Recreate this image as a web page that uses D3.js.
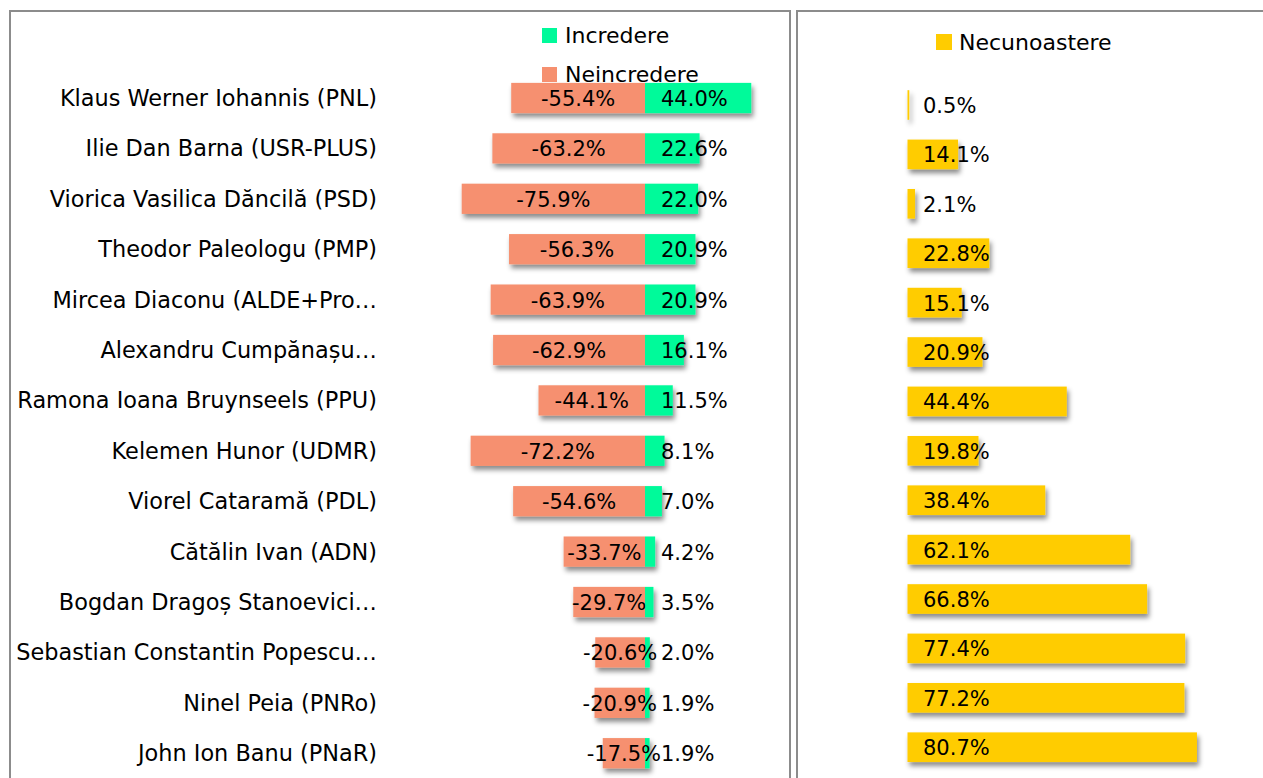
<!DOCTYPE html>
<html>
<head>
<meta charset="utf-8">
<style>
	body {margin: 0; background: #fff;}
	svg {display: block; font-family: "DejaVu Sans", sans-serif;}
</style>
<script src="https://d3js.org/d3.v7.min.js"></script>
</head>
<body>
<svg id="chart" width="1263" height="778"></svg>

<script id="data">
	// candidates, top to bottom
	var candidates = [
		"Klaus Werner Iohannis (PNL)",
		"Ilie Dan Barna (USR-PLUS)",
		"Viorica Vasilica Dăncilă (PSD)",
		"Theodor Paleologu (PMP)",
		"Mircea Diaconu (ALDE+Pro…",
		"Alexandru Cumpănașu…",
		"Ramona Ioana Bruynseels (PPU)",
		"Kelemen Hunor (UDMR)",
		"Viorel Cataramă (PDL)",
		"Cătălin Ivan (ADN)",
		"Bogdan Dragoș Stanoevici…",
		"Sebastian Constantin Popescu…",
		"Ninel Peia (PNRo)",
		"John Ion Banu (PNaR)"
	];
	var incredere   = [44.0, 22.6, 22.0, 20.9, 20.9, 16.1, 11.5, 8.1, 7.0, 4.2, 3.5, 2.0, 1.9, 1.9];
	var neincredere = [-55.4, -63.2, -75.9, -56.3, -63.9, -62.9, -44.1, -72.2, -54.6, -33.7, -29.7, -20.6, -20.9, -17.5];
	var necunoastere = [0.5, 14.1, 2.1, 22.8, 15.1, 20.9, 44.4, 19.8, 38.4, 62.1, 66.8, 77.4, 77.2, 80.7];

	var legendLeft = ["Incredere", "Neincredere"];
	var legendRight = ["Necunoastere"];
</script>

<script id="chart-building">
	var GREEN = "#00fa9a", SALMON = "#f6906f", YELLOW = "#ffcc00";
	var svg = d3.select("#chart");
	var fmt = function (v) { return v.toFixed(1) + "%"; };

	// drop shadow like the office chart
	var filt = svg.append("defs").append("filter")
		.attr("id", "shadow")
		.attr("x", "-10%").attr("y", "-30%")
		.attr("width", "130%").attr("height", "180%");
	filt.append("feDropShadow")
		.attr("dx", 2).attr("dy", 4)
		.attr("stdDeviation", 2.5)
		.attr("flood-color", "#000")
		.attr("flood-opacity", 0.45);

	// panel borders
	svg.append("rect")
		.attr("x", 10).attr("y", 11)
		.attr("width", 780).attr("height", 820)
		.style("fill", "none").style("stroke", "#8c8c8c").style("stroke-width", 2);
	svg.append("rect")
		.attr("x", 797).attr("y", 11)
		.attr("width", 520).attr("height", 820)
		.style("fill", "none").style("stroke", "#8c8c8c").style("stroke-width", 2);

	// ---------- left panel ----------
	var yLeft = d3.scaleBand()
		.domain(candidates)
		.range([72.8, 778.4])
		.paddingInner(0.4)
		.paddingOuter(0.2);
	var xLeft = d3.scaleLinear()
		.domain([-80, 50])
		.range([451.8, 765.75]);

	// legend (drawn first, the top bar sits over it)
	var legL = svg.append("g");
	legendLeft.forEach(function (name, i) {
		legL.append("rect")
			.attr("x", 542).attr("y", 28 + i * 39)
			.attr("width", 15).attr("height", 15)
			.style("fill", i == 0 ? GREEN : SALMON);
		legL.append("text")
			.attr("x", 565).attr("y", 35.5 + i * 39)
			.attr("dy", "0.36em")
			.style("font-size", "22px")
			.text(name);
	});

	// category labels
	svg.append("g").selectAll("text")
		.data(candidates)
		.enter().append("text")
		.attr("x", 377)
		.attr("y", function (d) { return yLeft(d) + yLeft.bandwidth() / 2; })
		.attr("dy", "0.36em")
		.attr("text-anchor", "end")
		.style("font-size", "22.4px")
		.text(function (d) { return d; });

	// bars
	var barsL = svg.append("g").attr("filter", "url(#shadow)");
	barsL.selectAll(".neg")
		.data(neincredere)
		.enter().append("rect")
		.attr("class", "neg")
		.attr("x", function (d) { return xLeft(d); })
		.attr("y", function (d, i) { return yLeft(candidates[i]); })
		.attr("width", function (d) { return xLeft(0) - xLeft(d); })
		.attr("height", yLeft.bandwidth())
		.style("fill", SALMON);
	barsL.selectAll(".pos")
		.data(incredere)
		.enter().append("rect")
		.attr("class", "pos")
		.attr("x", xLeft(0))
		.attr("y", function (d, i) { return yLeft(candidates[i]); })
		.attr("width", function (d) { return xLeft(d) - xLeft(0); })
		.attr("height", yLeft.bandwidth())
		.style("fill", GREEN);

	// value labels
	var labL = svg.append("g").style("font-size", "21px");
	labL.selectAll(".negl")
		.data(neincredere)
		.enter().append("text")
		.attr("x", function (d) { return (xLeft(d) + xLeft(0)) / 2; })
		.attr("y", function (d, i) { return yLeft(candidates[i]) + yLeft.bandwidth() / 2; })
		.attr("dy", "0.38em")
		.attr("text-anchor", "middle")
		.text(fmt);
	labL.selectAll(".posl")
		.data(incredere)
		.enter().append("text")
		.attr("x", xLeft(0) + 16)
		.attr("y", function (d, i) { return yLeft(candidates[i]) + yLeft.bandwidth() / 2; })
		.attr("dy", "0.38em")
		.text(fmt);

	// ---------- right panel ----------
	var yRight = d3.scaleBand()
		.domain(candidates)
		.range([80.3, 771.9])
		.paddingInner(0.4)
		.paddingOuter(0.2);
	var xRight = d3.scaleLinear()
		.domain([0, 90])
		.range([907.5, 1230.3]);

	legendRight.forEach(function (name) {
		svg.append("rect")
			.attr("x", 936).attr("y", 34)
			.attr("width", 16).attr("height", 16)
			.style("fill", YELLOW);
		svg.append("text")
			.attr("x", 959).attr("y", 42)
			.attr("dy", "0.36em")
			.style("font-size", "22px")
			.text(name);
	});

	svg.append("g").attr("filter", "url(#shadow)")
		.selectAll("rect")
		.data(necunoastere)
		.enter().append("rect")
		.attr("x", xRight(0))
		.attr("y", function (d, i) { return yRight(candidates[i]); })
		.attr("width", function (d) { return xRight(d) - xRight(0); })
		.attr("height", yRight.bandwidth())
		.style("fill", YELLOW);

	svg.append("g").style("font-size", "21px")
		.selectAll("text")
		.data(necunoastere)
		.enter().append("text")
		.attr("x", xRight(0) + 15.5)
		.attr("y", function (d, i) { return yRight(candidates[i]) + yRight.bandwidth() / 2; })
		.attr("dy", "0.38em")
		.text(fmt);
</script>
</body>
</html>
